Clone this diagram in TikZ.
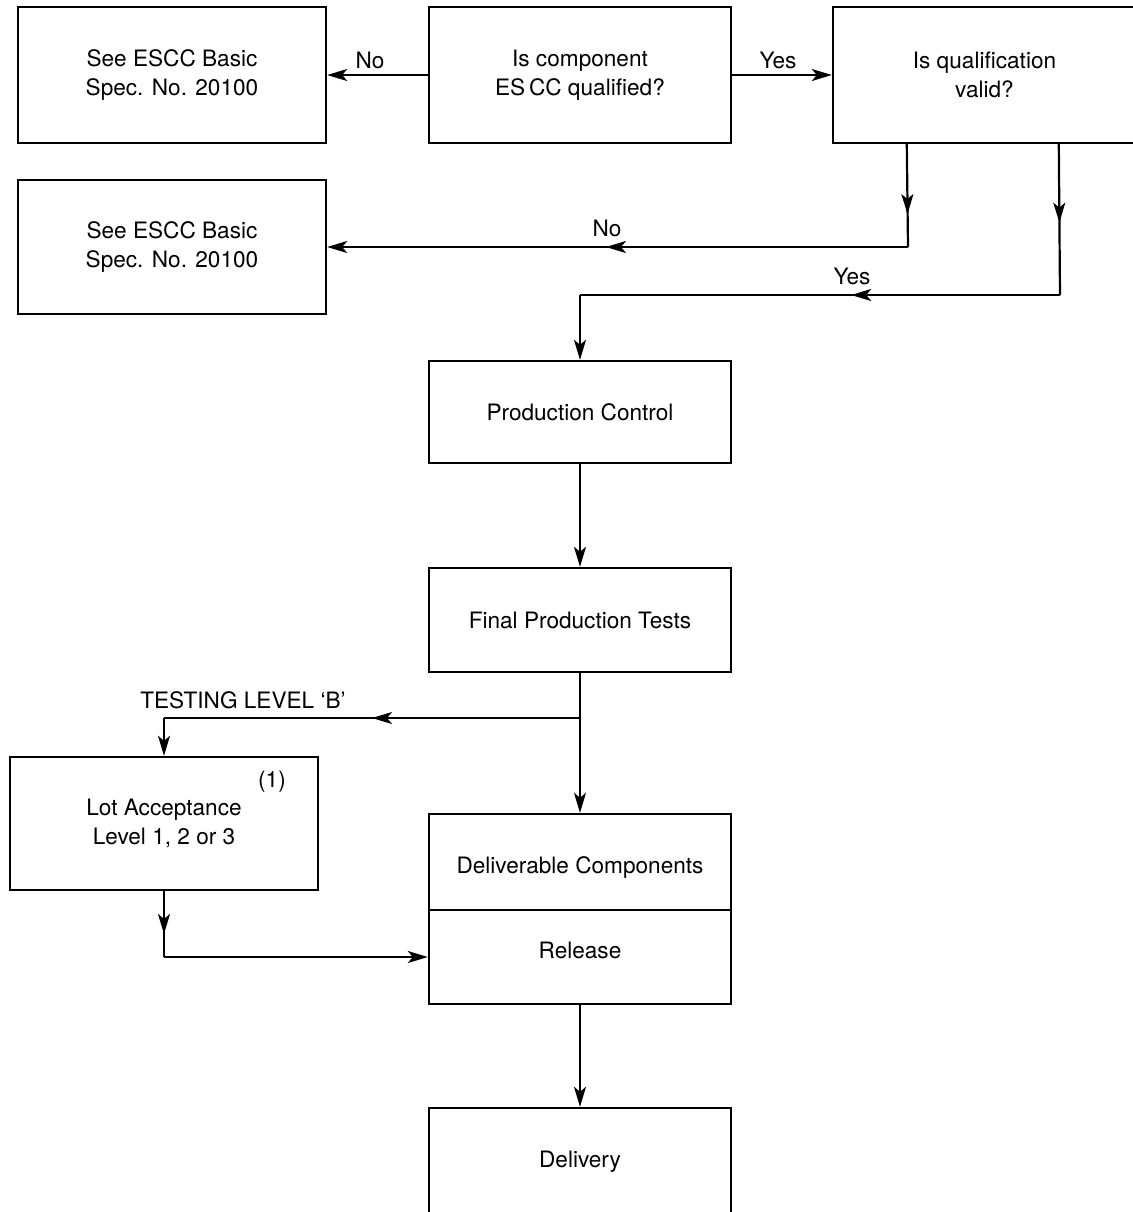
\documentclass[tikz,border=0pt]{standalone}
\usepackage{fontspec}
\setmainfont{TeX Gyre Heros}
\usetikzlibrary{arrows.meta,decorations.markings,calc}
\begin{document}
\begin{tikzpicture}[x=0.5pt,y=-0.5pt,
  txt/.style={font=\fontsize{11.3}{14.5}\selectfont, text=black},
  box/.style={draw, line width=1.2pt, rectangle, align=center, inner sep=0pt, txt},
  tip/.tip={Stealth[length=10pt,width=6pt,inset=2.5pt]},
  conn/.style={line width=1.1pt, -tip},
  plain/.style={line width=1.1pt},
  mid/.style={line width=1.1pt, postaction={decorate},
    decoration={markings, mark=at position #1 with {\arrow{tip}}}},
  lbl/.style={txt, inner sep=0pt}]
\useasboundingbox (0,0) rectangle (1133,1212);
\fill[white] (0,0) rectangle (1133,1212);

% boxes
\node[box, minimum width=154pt, minimum height=68pt] (A) at (172,75) {See ESCC Basic\\Spec. No. 20100};
\node[box, minimum width=151pt, minimum height=68pt] (B) at (580,75) {Is component\\ES\,CC qualified?};
\node[box, minimum width=151.5pt, minimum height=68pt] (C) at (984.5,75) {Is qualification\\valid?};
\node[box, minimum width=154pt, minimum height=67pt] (D) at (172,247) {See ESCC Basic\\Spec. No. 20100};
\node[box, minimum width=151pt, minimum height=51pt] (E) at (580,412) {Production Control};
\node[box, minimum width=151pt, minimum height=52pt] (F) at (580,620) {Final Production Tests};
\node[box, minimum width=154pt, minimum height=66.5pt] (G) at (164,823.5) {Lot Acceptance\\Level 1, 2 or 3};
\node[lbl] (G1) at (272,782) {(1)};
\node[box, minimum width=151pt, minimum height=48pt, text height=14pt, text depth=2.5pt] (H1) at (580,862) {Deliverable Components};
\node[box, minimum width=151pt, minimum height=47pt, text height=8.5pt, text depth=7.5pt] (H2) at (580,957) {Release};
\node[box, minimum width=151pt, minimum height=53.5pt] (I) at (580,1161.5) {Delivery};

% top row
\draw[conn] (B.west) -- (A.east);
\node[lbl] (lNo1) at (370,60) {No};
\draw[conn] (B.east) -- (C.west);
\node[lbl] (lYes1) at (778,60) {Yes};

% No branch from C
\coordinate (noL) at ($(C.south west)+(75,0)$);
\coordinate (noK) at (908,247);
\draw[mid=0.68] (noL) -- (noK);
\draw[conn, mid=0.52] (noK) -- (D.east);
\node[lbl] (lNo2) at (607,228) {No};

% Yes branch from C
\coordinate (yL) at ($(C.south west)+(227,0)$);
\coordinate (yK) at (1060,295);
\coordinate (yJ) at (E.north |- yK);
\draw[mid=0.52] (yL) -- (yK);
\draw[mid=0.435] (yK) -- (yJ);
\draw[conn] (yJ) -- (E.north);
\node[lbl] (lYes2) at (852,276) {Yes};

% middle column
\draw[conn] (E.south) -- (F.north);
\coordinate (tJ) at (580,718);
\coordinate (tK) at (G.north |- tJ);
\draw[plain] (F.south) -- (tJ);
\draw[conn] (tJ) -- (H1.north);
\draw[mid=0.5] (tJ) -- (tK);
\draw[conn] (tK) -- (G.north);
\node[lbl] (lTest) at (243,700) {TESTING LEVEL `B'};

% lot acceptance to release
\coordinate (gK) at (G.south |- H2.west);
\draw[mid=0.65] (G.south) -- (gK);
\draw[conn] (gK) -- (H2.west);

\draw[conn] (H2.south) -- (I.north);
\end{tikzpicture}
\end{document}
